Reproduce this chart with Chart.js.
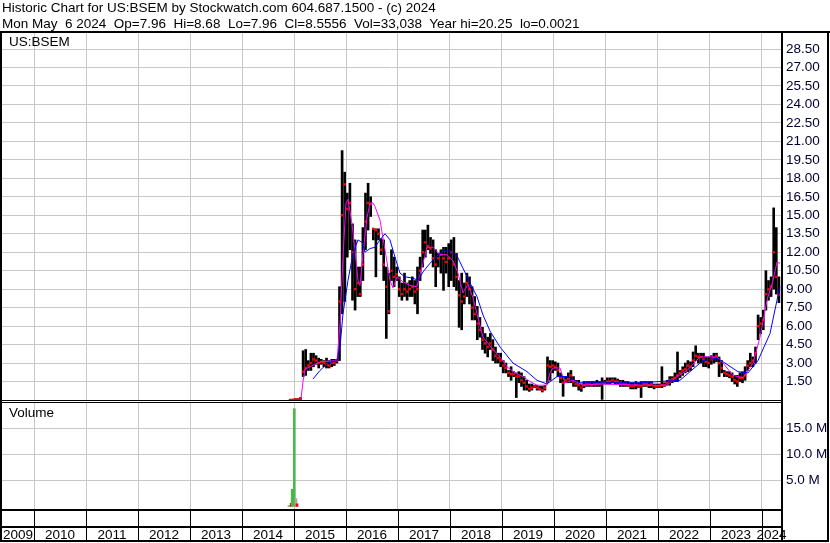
<!DOCTYPE html>
<html><head><meta charset="utf-8">
<script src="https://cdn.jsdelivr.net/npm/chart.js@4.4.1/dist/chart.umd.min.js"></script>
<style>
html,body{margin:0;padding:0;background:#fff;}
#wrap{position:relative;width:830px;height:543px;overflow:hidden;background:#fff;font-family:"Liberation Sans",Arial,sans-serif;}
.t{position:absolute;font-size:13.5px;line-height:15.5px;color:#000;white-space:pre;}
canvas{position:absolute;left:0;}
</style></head><body>
<div id="wrap">
<canvas id="price" width="830" height="401" style="top:0;width:830px;height:401px"></canvas>
<canvas id="vol" width="830" height="142" style="top:401px;width:830px;height:142px"></canvas>
<div class="t" style="left:2px;top:0">Historic Chart for US:BSEM by Stockwatch.com 604.687.1500 - (c) 2024
Mon May  6 2024  Op=7.96  Hi=8.68  Lo=7.96  Cl=8.5556  Vol=33,038  Year hi=20.25  lo=0.0021</div>
<div class="t" style="left:9px;top:34px">US:BSEM</div>
<div class="t" style="left:9px;top:405px">Volume</div>
</div>
<script>
// ---------- data ----------
const BAR_START = 2014.925;   // first sampled date (decimal year)
const BAR_STEP = 0.05;        // sampling interval (years)
const lows = [
0.002,0.002,0.01,0.02,0.05,1.9,2.0,2.4,2.4,2.7,
2.9,2.6,2.9,2.7,2.6,2.6,2.7,2.8,3.0,3.2,
7.0,8.0,11.6,12.2,8.1,7.3,8.4,8.4,9.7,12.2,
13.8,14.9,13.0,10.0,13.0,11.8,9.7,5.0,7.0,9.7,
9.2,9.7,8.4,8.1,8.4,8.1,8.4,8.4,7.8,7.0,
9.7,10.8,11.6,12.2,11.9,10.8,9.2,10.8,10.3,8.9,
10.3,9.2,9.7,9.2,8.9,5.9,5.7,7.8,8.4,7.8,
6.5,6.5,4.9,5.1,4.1,3.8,3.5,4.1,3.2,3.0,
3.0,2.7,2.2,2.2,1.9,1.6,1.9,0.2,1.4,1.1,
0.8,0.8,0.7,0.8,1.0,0.8,0.8,0.65,0.8,1.4,
1.6,2.2,2.4,1.9,1.4,0.3,1.4,1.4,1.4,1.1,
1.1,0.8,0.7,1.0,1.1,1.1,1.1,1.1,1.1,1.1,
0.05,1.3,1.3,1.3,1.4,1.3,1.3,1.1,1.1,1.1,
1.1,0.9,0.9,0.9,1.0,0.2,1.1,1.1,1.0,1.0,
0.9,1.0,1.0,1.0,1.1,1.2,1.2,1.4,1.5,1.5,
1.8,2.0,2.2,2.3,2.4,2.7,3.2,3.0,3.0,2.7,
2.7,2.6,2.9,3.0,3.1,1.9,2.2,1.9,1.9,1.8,
1.5,1.3,1.1,1.5,1.4,1.6,2.4,2.7,2.7,3.0,
4.9,5.4,5.7,7.3,8.1,8.4,9.0,8.6,7.9];
const highs = [
0.01,0.05,0.1,0.1,0.2,4.0,4.1,3.2,3.8,3.8,
3.6,3.4,3.3,3.2,3.4,3.2,3.3,3.3,3.3,9.2,
20.25,18.5,16.8,17.6,14.3,13.0,10.8,10.8,14.0,16.8,
17.6,16.5,13.9,13.9,13.9,13.1,13.0,10.8,10.3,12.2,
11.6,10.8,10.0,9.5,10.3,9.5,9.7,10.0,9.7,10.8,
11.6,13.8,13.8,14.2,13.2,13.0,12.2,11.9,12.2,12.4,
12.4,12.7,13.0,13.2,11.9,9.7,10.3,9.5,10.3,10.0,
9.2,8.4,7.6,6.7,5.9,5.4,5.1,5.4,4.9,4.3,
3.8,3.8,3.2,3.0,2.4,2.7,2.3,2.2,2.3,2.2,
1.9,1.6,1.3,1.3,1.2,1.2,1.1,1.1,1.2,3.5,
3.2,3.2,3.1,3.0,2.2,1.9,1.9,2.2,2.4,1.9,
1.6,1.6,1.3,1.5,1.5,1.5,1.5,1.5,1.6,1.5,
1.8,1.6,1.8,1.8,1.8,1.8,1.7,1.6,1.6,1.5,
1.5,1.4,1.4,1.5,1.4,1.5,1.5,1.5,1.5,1.5,
1.3,1.3,1.3,2.7,1.4,1.6,1.9,1.9,2.2,3.9,
2.4,2.7,3.0,3.2,3.1,3.9,4.4,3.8,3.8,3.8,
3.5,3.5,3.6,3.8,3.8,3.5,3.2,2.4,2.3,2.3,
2.2,2.0,2.0,2.2,2.3,2.7,3.2,3.8,3.5,4.3,
6.9,6.7,7.3,10.5,9.7,10.0,15.6,14.0,10.0];
const closes = [
0.005,0.02,0.05,0.05,0.1,2.3,2.6,2.8,3.0,3.3,
3.2,3.0,3.1,3.0,2.9,2.8,3.0,3.0,3.2,8.0,
15.0,17.5,15.5,16.0,12.0,9.0,9.5,8.6,11.0,14.5,
16.0,15.9,13.9,13.8,13.5,12.2,11.0,9.2,7.2,10.5,
10.0,10.2,9.0,8.6,9.0,8.8,9.0,9.2,8.8,9.0,
10.5,12.0,12.8,12.5,12.3,11.5,11.0,11.5,11.8,11.5,
11.2,11.5,12.0,11.0,10.0,8.5,8.0,8.4,9.5,9.0,
7.5,7.0,6.2,5.7,4.9,4.6,4.3,4.6,4.1,3.6,
3.4,3.2,2.8,2.6,2.2,2.1,2.1,1.9,1.9,1.6,
1.4,1.1,0.9,1.0,1.1,1.0,0.9,0.8,1.0,2.8,
2.7,2.8,2.7,2.4,1.8,1.4,1.6,1.7,2.0,1.5,
1.3,1.2,1.0,1.2,1.3,1.3,1.2,1.3,1.3,1.3,
1.4,1.4,1.5,1.5,1.6,1.5,1.5,1.4,1.3,1.3,
1.2,1.1,1.1,1.2,1.1,1.1,1.3,1.3,1.2,1.3,
1.1,1.1,1.1,1.2,1.2,1.4,1.6,1.7,1.8,2.0,
2.2,2.4,2.5,2.8,2.7,3.2,3.6,3.5,3.5,3.3,
3.1,3.0,3.3,3.4,3.6,3.0,2.6,2.2,2.1,2.0,
1.9,1.6,1.5,1.8,1.8,2.0,2.8,3.0,3.2,3.8,
6.0,6.2,6.5,8.6,9.0,9.2,12.0,10.0,8.56];

// short moving average (magenta)
const maShortDates = [2015.135,2015.173,2015.212,2015.308,2015.5,2015.827,2015.885,2015.942,2016.0,2016.038,2016.115,2016.173,2016.231,2016.269,2016.327,2016.404,2016.462,2016.519,2016.558,2016.654,2016.75,2016.846,2016.904,2016.981,2017.096,2017.231,2017.365,2017.462,2017.558,2017.673,2017.808,2017.942,2018.058,2018.154,2018.25,2018.346,2018.442,2018.519,2018.635,2018.827,2018.962,2019.096,2019.25,2019.404,2019.538,2019.673,2019.865,2019.923,2019.981,2020.115,2020.212,2020.365,2020.558,2020.885,2021.269,2021.846,2022.173,2022.365,2022.558,2022.808,2023.135,2023.25,2023.442,2023.635,2023.827,2023.962,2024.096,2024.212,2024.288,2024.346];
const maShortValues = [0.1,1.5,2.5,2.7,3.1,3.2,6.2,11.6,16.0,16.3,14.3,12.2,9.7,9.3,11.9,14.8,16.0,16.0,15.7,14.6,12.2,9.7,9.1,10.0,9.6,9.3,9.2,10.8,12.4,12.4,11.8,11.8,11.3,10.3,8.7,9.4,8.3,7.0,5.1,4.1,3.5,2.7,2.2,1.9,1.5,1.2,1.2,2.2,2.6,2.6,1.4,1.6,1.2,1.3,1.25,1.2,1.2,1.9,2.4,3.5,3.5,3.0,2.0,1.8,3.0,5.1,8.1,9.7,11.2,11.1];
// long moving average (blue)
const maLongDates = [2015.365,2015.5,2015.654,2015.827,2015.885,2015.942,2016.038,2016.135,2016.231,2016.308,2016.365,2016.462,2016.558,2016.654,2016.75,2016.846,2016.942,2017.038,2017.135,2017.288,2017.385,2017.481,2017.615,2017.75,2017.865,2018.0,2018.135,2018.25,2018.385,2018.519,2018.635,2018.769,2018.962,2019.212,2019.481,2019.673,2019.865,2020.058,2020.25,2020.5,2021.654,2022.423,2022.615,2022.865,2023.135,2023.288,2023.538,2023.731,2023.923,2024.154,2024.288,2024.346];
const maLongValues = [1.7,2.4,3.0,3.2,4.3,7.0,9.7,11.9,13.0,12.8,12.0,12.3,12.4,13.0,13.5,13.0,11.6,10.3,10.0,9.9,9.7,10.4,11.1,11.7,12.1,12.1,11.7,10.7,9.5,8.4,6.9,5.6,4.3,3.0,2.3,1.6,1.3,1.9,1.9,1.4,1.4,1.6,2.3,3.2,3.4,3.0,2.3,2.2,3.2,5.4,8.1,9.2];

// volume (millions)
const volDates  = [2014.904,2014.945,2014.965,2015.006,2015.038,2015.058];
const volValues = [0.15,0.6,3.3,18.8,1.5,0.5];
const volKinds  = ['up','down','up','up','flat','down'];

// axes
const X_MIN = 2009.3846, X_MAX = 2024.3654;
const yearLines = [2010,2011,2012,2013,2014,2015,2016,2017,2018,2019,2020,2021,2022,2023,2024];
const yearLabels = ['2009','2010','2011','2012','2013','2014','2015','2016','2017','2018','2019','2020','2021','2022','2023','2024'];
const priceTicks = [1.5,3,4.5,6,7.5,9,10.5,12,13.5,15,16.5,18,19.5,21,22.5,24,25.5,27,28.5];
const volTicks = [5,10,15];

// ---------- build ----------
const FONT = {family:'"Liberation Sans", Arial, sans-serif', size:13.5};
const GRID = '#c8c8c8';
const LABEL_COLOR = '#000033';
const kindColor = {up:'#4cb84c', down:'#ff0000', flat:'#a8a8a8'};

const barDates = lows.map((_, i) => +(BAR_START + i * BAR_STEP).toFixed(3));
const rangeData = barDates.map((d, i) => ({x: d, y: [lows[i], highs[i]]}));
const closeData = barDates.map((d, i) => ({x: d, y: closes[i]}));
const shortData = maShortDates.map((d, i) => ({x: d, y: maShortValues[i]}));
const longData = maLongDates.map((d, i) => ({x: d, y: maLongValues[i]}));

// label centres inside each visible year span
const yearBounds = [X_MIN, ...yearLines, X_MAX];
const yearCenters = yearLabels.map((_, i) => (yearBounds[i] + yearBounds[i + 1]) / 2);

const noPad = s => { s.paddingTop = 0; s.paddingBottom = 0; s.paddingLeft = 0; s.paddingRight = 0; };

const pricePlugin = {
  id: 'priceFrame',
  afterDraw(chart) {
    const {ctx, chartArea: a} = chart;
    const W = chart.width;
    ctx.save();
    ctx.fillStyle = '#000';
    ctx.fillRect(0, a.top - 2, W, 2);            // header rule
    ctx.fillRect(0, a.top - 2, 2, a.bottom - a.top + 3);
    ctx.fillRect(a.right, a.top - 2, 2, a.bottom - a.top + 3);
    ctx.fillRect(W - 3, a.top - 2, 2, a.bottom - a.top + 3);
    ctx.fillRect(0, a.bottom, a.right + 2, 1);
    ctx.restore();
  }
};

const volPlugin = {
  id: 'volFrame',
  afterDraw(chart) {
    const {ctx, chartArea: a} = chart;
    const W = chart.width, H = chart.height;
    const xs = chart.scales.x;
    ctx.save();
    ctx.fillStyle = '#000';
    ctx.fillRect(0, a.top - 1, a.right + 2, 1);
    ctx.fillRect(0, 0, 2, H - 1);
    ctx.fillRect(a.right, 0, 2, H - 1);
    ctx.fillRect(W - 3, 0, 2, H - 1);
    ctx.fillRect(0, a.bottom, a.right + 2, 2);
    ctx.fillRect(0, a.bottom + 17, a.right + 2, 2);
    ctx.fillRect(0, H - 3, W - 1, 2);
    yearLines.forEach(v => {
      const x = Math.round(xs.getPixelForValue(v));
      ctx.fillRect(x, a.bottom, 1, H - 3 - a.bottom);
    });
    ctx.restore();
  }
};

Chart.defaults.font.family = FONT.family;

new Chart(document.getElementById('price'), {
  type: 'bar',
  data: {
    datasets: [
      {type: 'line', label: 'MA long', data: longData, borderColor: '#0000ff', borderWidth: 1, pointRadius: 0, tension: 0, order: 0},
      {type: 'line', label: 'MA short', data: shortData, borderColor: '#ff00ff', borderWidth: 1, pointRadius: 0, tension: 0, order: 1},
      {type: 'line', label: 'Close', data: closeData, showLine: false, pointStyle: 'rect', pointRadius: 1.7, pointBorderWidth: 0, backgroundColor: '#ff0000', borderColor: '#ff0000', order: 2},
      {type: 'bar', label: 'Range', data: rangeData, backgroundColor: '#000', barThickness: 2, order: 3}
    ]
  },
  options: {
    responsive: false, animation: false, devicePixelRatio: 1,
    layout: {autoPadding: false, padding: {top: 33, left: 2, right: 0, bottom: 1}},
    plugins: {legend: {display: false}, tooltip: {enabled: false}},
    scales: {
      x: {
        type: 'linear', min: X_MIN, max: X_MAX, offset: false,
        afterBuildTicks: s => { s.ticks = yearLines.map(v => ({value: v})); },
        afterFit: s => { s.height = 0; noPad(s); },
        grid: {color: GRID, drawTicks: false, offset: false},
        border: {display: false},
        ticks: {display: false}
      },
      y: {
        position: 'right', min: 0, max: 29.8,
        afterBuildTicks: s => { s.ticks = priceTicks.map(v => ({value: v})); },
        afterFit: s => { s.width = 49; noPad(s); },
        grid: {color: GRID, drawTicks: false},
        border: {display: false},
        ticks: {font: FONT, color: LABEL_COLOR, padding: 5, callback: v => v.toFixed(2)}
      }
    }
  },
  plugins: [pricePlugin]
});

const volTickList = [...yearLines, ...yearCenters].sort((p, q) => p - q);
new Chart(document.getElementById('vol'), {
  type: 'bar',
  data: {
    datasets: [{
      label: 'Volume',
      data: volDates.map((d, i) => ({x: d, y: volValues[i]})),
      backgroundColor: volKinds.map(k => kindColor[k]),
      barThickness: 2
    }]
  },
  options: {
    responsive: false, animation: false, devicePixelRatio: 1,
    layout: {autoPadding: false, padding: {top: 2, left: 2, right: 0, bottom: 0}},
    plugins: {legend: {display: false}, tooltip: {enabled: false}},
    scales: {
      x: {
        type: 'linear', min: X_MIN, max: X_MAX, offset: false,
        afterBuildTicks: s => { s.ticks = volTickList.map(v => ({value: v})); },
        afterFit: s => { s.height = 34; noPad(s); },
        grid: {
          offset: false, drawTicks: false,
          color: c => (c.tick && Number.isInteger(c.tick.value)) ? GRID : 'rgba(0,0,0,0)'
        },
        border: {display: false},
        ticks: {
          autoSkip: false, maxRotation: 0, minRotation: 0, padding: 18, font: FONT, color: '#000',
          callback: v => {
            const k = yearCenters.findIndex(c => Math.abs(c - v) < 1e-6);
            return k >= 0 ? yearLabels[k] : '';
          }
        }
      },
      y: {
        position: 'right', min: -0.5, max: 19.9,
        afterBuildTicks: s => { s.ticks = volTicks.map(v => ({value: v})); },
        afterFit: s => { s.width = 49; noPad(s); },
        grid: {color: GRID, drawTicks: false},
        border: {display: false},
        ticks: {font: FONT, color: LABEL_COLOR, padding: 5, callback: v => v.toFixed(1) + ' M'}
      }
    }
  },
  plugins: [volPlugin]
});
</script>
</body></html>
